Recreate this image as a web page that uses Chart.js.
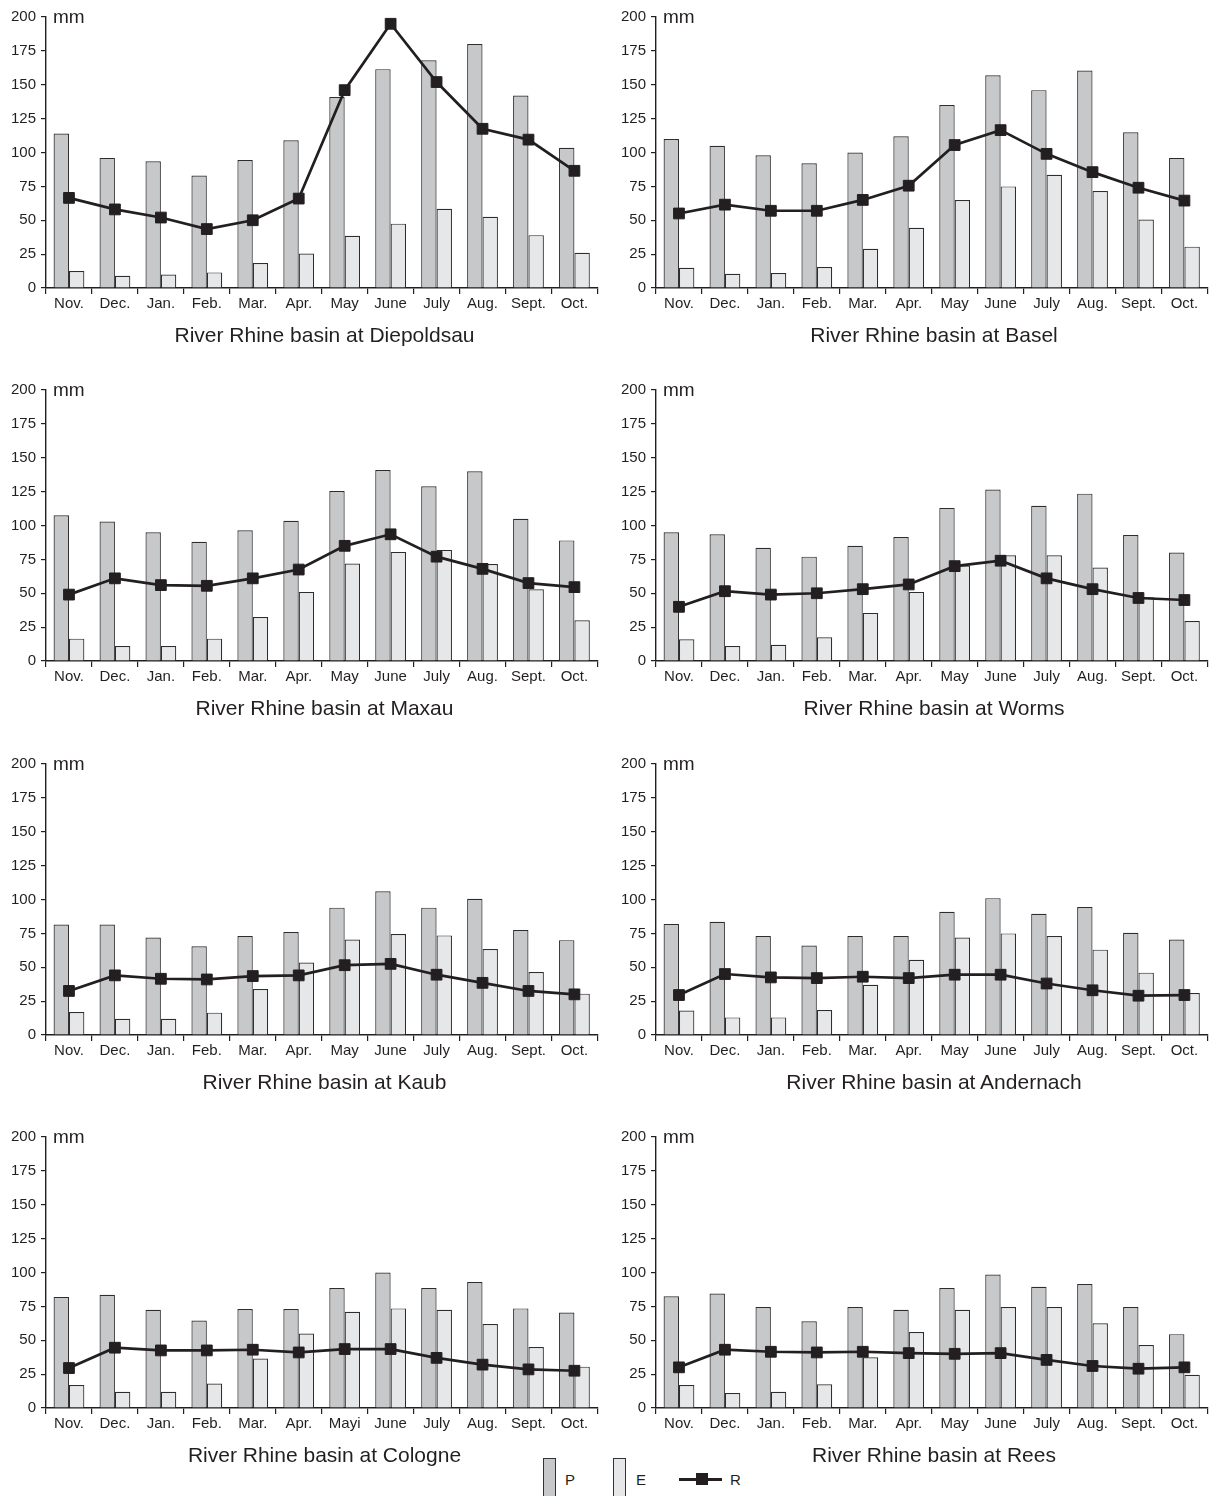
<!DOCTYPE html>
<html>
<head>
<meta charset="utf-8">
<script src="https://cdn.jsdelivr.net/npm/chart.js@4/dist/chart.umd.min.js"></script>
<style>
  html, body { margin: 0; padding: 0; background: #ffffff; }
  body { width: 1216px; height: 1496px; position: relative; overflow: hidden; font-family: "Liberation Sans", Arial, sans-serif; color: #231f20; }
  .wrap { position: absolute; }
  .title { position: absolute; font-size: 21px; line-height: 21px; white-space: nowrap; transform: translateX(-50%); color: #231f20; }
  .leg { position: absolute; }
  .sw { position: absolute; width: 13px; height: 44px; border: 1px solid #333; box-sizing: border-box; }
  .lt { position: absolute; font-size: 15px; line-height: 15px; }
</style>
</head>
<body>
<script>
// ---------- data ----------
const months = ["Nov.", "Dec.", "Jan.", "Feb.", "Mar.", "Apr.", "May", "June", "July", "Aug.", "Sept.", "Oct."];
const monthsCologne = ["Nov.", "Dec.", "Jan.", "Feb.", "Mar.", "Apr.", "Mayi", "June", "July", "Aug.", "Sept.", "Oct."];
const yTicks = [0, 25, 50, 75, 100, 125, 150, 175, 200];
const seriesNames = ["P", "E", "R"];

const diepoldsauP = [114, 96, 93.5, 83, 94.5, 109, 141, 161.5, 168, 180, 142, 103.5];
const diepoldsauE = [12.5, 9, 10, 11.5, 18.5, 25.5, 38.5, 47.5, 58.5, 52.5, 39, 26];
const diepoldsauR = [66.5, 58, 52, 43.5, 50, 66, 146, 195, 152, 117.5, 109.5, 86.5];

const baselP = [110, 105, 98, 92, 100, 112, 135, 157, 146, 160.5, 115, 96];
const baselE = [15, 10.5, 11, 15.5, 29, 44.5, 65, 75, 83.5, 71.5, 50.5, 30.5];
const baselR = [55, 61.5, 57, 57, 65, 75.5, 105.5, 116.5, 99, 85.5, 74, 64.5];

const maxauP = [107.5, 103, 95, 88, 96.5, 103.5, 125.5, 141, 129, 140, 105, 89];
const maxauE = [16.5, 11, 11, 16.5, 32.5, 51, 72, 80.5, 82, 71.5, 53, 30];
const maxauR = [49, 61, 56, 55.5, 61, 67.5, 85, 93.5, 77, 68, 57.5, 54.5];

const wormsP = [95, 93.5, 83.5, 77, 85, 91.5, 113, 126.5, 114.5, 123.5, 93, 80];
const wormsE = [16, 11, 12, 17.5, 35.5, 51, 70.5, 78, 78, 69, 47, 29.5];
const wormsR = [40, 51.5, 49, 50, 53, 56.5, 70, 74, 61, 53, 46.5, 45];

const kaubP = [81.5, 81.5, 72, 65.5, 73, 76, 94, 106, 94, 100.5, 77.5, 70];
const kaubE = [17, 12, 12, 16.5, 34, 53.5, 70.5, 74.5, 73.5, 63.5, 46.5, 30.5];
const kaubR = [32.5, 44, 41.5, 41, 43.5, 44, 51.5, 52.5, 44.5, 38.5, 32.5, 30];

const andernachP = [82, 83.5, 73, 66, 73, 73, 91, 101, 89.5, 94.5, 75.5, 70.5];
const andernachE = [18, 13, 13, 18.5, 37, 55.5, 72, 75, 73, 63, 46, 31];
const andernachR = [29.5, 45, 42.5, 42, 43, 42, 44.5, 44.5, 38, 33, 29, 29.5];

const cologneP = [82, 83.5, 72.5, 64.5, 73, 73, 88.5, 100, 88.5, 93, 73.5, 70.5];
const cologneE = [17, 12, 12, 18, 36.5, 55, 71, 73.5, 72.5, 62, 45, 30.5];
const cologneR = [29.5, 44.5, 42.5, 42.5, 43, 41, 43.5, 43.5, 37, 32, 28.5, 27.5];

const reesP = [82.5, 84.5, 74.5, 64, 74.5, 72.5, 88.5, 98.5, 89.5, 91.5, 74.5, 54.5];
const reesE = [17, 11, 12, 17.5, 37.5, 56, 72.5, 74.5, 74.5, 62.5, 46.5, 24.5];
const reesR = [30, 43, 41.5, 41, 41.5, 40.5, 40, 40.5, 35.5, 31, 29, 30];

const titles = [
  "River Rhine basin at Diepoldsau", "River Rhine basin at Basel",
  "River Rhine basin at Maxau", "River Rhine basin at Worms",
  "River Rhine basin at Kaub", "River Rhine basin at Andernach",
  "River Rhine basin at Cologne", "River Rhine basin at Rees"
];

// ---------- styling / layout ----------
const INK = "#231f20";
const P_FILL = "#c7c8ca";
const E_FILL = "#e6e7e8";
const BAR_BORDER = "#2e2c2d";
const FONT = "'Liberation Sans', Arial, sans-serif";
const PLOT_H = 273;
const PAD_TOP = 12;
const X_AXIS_H = 40;
const Y_AXIS_W = 46;
const rowTops = [15, 388, 762, 1135];
const colLefts = [0, 610];
const padRights = [3, 4];
const CANVAS_W = 606;

const panels = [
  { labels: months, P: diepoldsauP, E: diepoldsauE, R: diepoldsauR },
  { labels: months, P: baselP, E: baselE, R: baselR },
  { labels: months, P: maxauP, E: maxauE, R: maxauR },
  { labels: months, P: wormsP, E: wormsE, R: wormsR },
  { labels: months, P: kaubP, E: kaubE, R: kaubR },
  { labels: months, P: andernachP, E: andernachE, R: andernachR },
  { labels: monthsCologne, P: cologneP, E: cologneE, R: cologneR },
  { labels: months, P: reesP, E: reesE, R: reesR }
];

const mmPlugin = {
  id: 'mmLabel',
  afterDraw(chart) {
    const ctx = chart.ctx;
    const a = chart.chartArea;
    ctx.save();
    ctx.fillStyle = INK;
    ctx.font = "19px " + FONT;
    ctx.textAlign = 'left';
    ctx.textBaseline = 'alphabetic';
    ctx.fillText('mm', a.left + 7, a.top + 6);
    ctx.restore();
  }
};

panels.forEach((p, i) => {
  const col = i % 2, row = Math.floor(i / 2);
  const H = PAD_TOP + PLOT_H + X_AXIS_H;
  const wrap = document.createElement('div');
  wrap.className = 'wrap';
  wrap.style.left = colLefts[col] + 'px';
  wrap.style.top = (rowTops[row] - PAD_TOP) + 'px';
  wrap.style.width = CANVAS_W + 'px';
  wrap.style.height = H + 'px';
  const cv = document.createElement('canvas');
  cv.width = CANVAS_W; cv.height = H;
  cv.style.width = CANVAS_W + 'px'; cv.style.height = H + 'px';
  wrap.appendChild(cv);
  document.body.appendChild(wrap);

  new Chart(cv.getContext('2d'), {
    type: 'bar',
    data: {
      labels: p.labels,
      datasets: [
        {
          type: 'line', label: seriesNames[2], data: p.R, order: 0,
          borderColor: INK, borderWidth: 2.7, tension: 0,
          pointStyle: 'rect', pointRadius: 7.6, pointBorderWidth: 1,
          pointBackgroundColor: INK, pointBorderColor: INK, fill: false
        },
        {
          type: 'bar', label: seriesNames[0], data: p.P, order: 1,
          backgroundColor: P_FILL, borderColor: BAR_BORDER, borderWidth: 1.2,
          borderSkipped: 'start', barPercentage: 1.0, categoryPercentage: 0.67
        },
        {
          type: 'bar', label: seriesNames[1], data: p.E, order: 2,
          backgroundColor: E_FILL, borderColor: BAR_BORDER, borderWidth: 1.2,
          borderSkipped: 'start', barPercentage: 1.0, categoryPercentage: 0.67
        }
      ]
    },
    options: {
      responsive: false,
      animation: false,
      devicePixelRatio: 1,
      layout: { padding: { top: PAD_TOP, right: padRights[col], left: 0, bottom: 0 } },
      plugins: { legend: { display: false }, tooltip: { enabled: false }, title: { display: false } },
      scales: {
        x: {
          offset: true,
          grid: { display: true, drawOnChartArea: false, drawTicks: true, tickLength: 6, offset: true, color: INK, lineWidth: 1.2 },
          border: { display: true, color: INK, width: 1.4 },
          ticks: { color: INK, font: { family: FONT, size: 15 }, padding: 1, autoSkip: false, maxRotation: 0, minRotation: 0 },
          afterFit(scale) { scale.height = X_AXIS_H; }
        },
        y: {
          min: 0, max: 200,
          afterBuildTicks(scale) { scale.ticks = yTicks.map(v => ({ value: v })); },
          grid: { display: true, drawOnChartArea: false, drawTicks: true, tickLength: 5, color: INK, lineWidth: 1.2 },
          border: { display: true, color: INK, width: 1.4 },
          ticks: { color: INK, font: { family: FONT, size: 15 }, padding: 5 },
          afterFit(scale) { scale.width = Y_AXIS_W; }
        }
      }
    },
    plugins: [mmPlugin]
  });

  const t = document.createElement('div');
  t.className = 'title';
  t.textContent = titles[i];
  t.style.left = (colLefts[col] + Y_AXIS_W + (CANVAS_W - padRights[col] - Y_AXIS_W) / 2) + 'px';
  t.style.top = (rowTops[row] + PLOT_H + 36) + 'px';
  document.body.appendChild(t);
});

// ---------- legend ----------
function addSwatch(left, fill) {
  const d = document.createElement('div');
  d.className = 'sw';
  d.style.left = left + 'px'; d.style.top = '1458px'; d.style.background = fill;
  document.body.appendChild(d);
}
function addText(left, txt) {
  const d = document.createElement('div');
  d.className = 'lt';
  d.style.left = left + 'px'; d.style.top = '1472px';
  d.textContent = txt;
  document.body.appendChild(d);
}
addSwatch(543, P_FILL); addText(565, seriesNames[0]);
addSwatch(613, E_FILL); addText(636, seriesNames[1]);
const ln = document.createElement('div');
ln.style.cssText = 'position:absolute;left:679px;top:1478px;width:43px;height:3px;background:' + INK + ';';
document.body.appendChild(ln);
const sq = document.createElement('div');
sq.style.cssText = 'position:absolute;left:696px;top:1473px;width:12px;height:12px;background:' + INK + ';';
document.body.appendChild(sq);
addText(730, seriesNames[2]);
</script>
</body>
</html>
